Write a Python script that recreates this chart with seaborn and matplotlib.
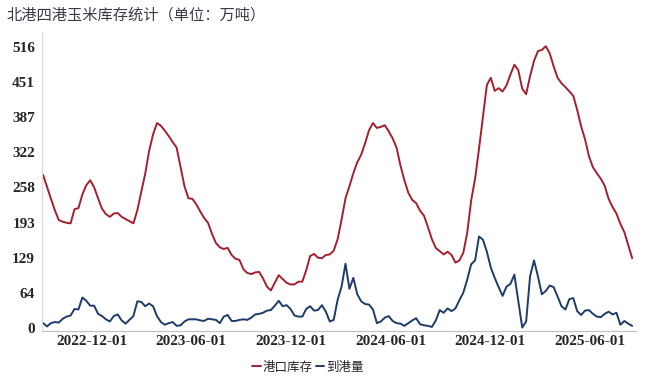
import pandas as pd
import matplotlib
matplotlib.use("Agg")
import matplotlib.pyplot as plt
import matplotlib.dates as mdates
import seaborn as sns

title = "北港四港玉米库存统计（单位：万吨）"
series_names = ["港口库存", "到港量"]
first_date = "2022-09-03"
last_date = "2025-08-18"

port_stock = [
    281, 259, 237, 216, 198, 195, 193, 192, 218, 220,
    245, 262, 271, 258, 238, 219, 209, 204, 210, 211,
    204, 200, 196, 192, 216, 250, 283, 325, 355, 376,
    371, 362, 352, 341, 331, 295, 260, 238, 237, 227,
    214, 202, 193, 173, 156, 148, 145, 147, 134, 127,
    125, 108, 101, 99, 102, 103, 91, 76, 69, 83,
    97, 90, 83, 80, 80, 85, 85, 106, 132, 136,
    129, 128, 134, 135, 142, 163, 199, 238, 260, 284,
    304, 318, 339, 363, 376, 367, 369, 372, 361, 348,
    331, 298, 271, 248, 235, 229, 215, 206, 185, 163,
    147, 141, 135, 140, 134, 120, 124, 138, 175, 234,
    274, 329, 388, 446, 459, 435, 440, 434, 445, 465,
    483, 473, 439, 429, 462, 490, 508, 510, 517, 504,
    480, 459, 449, 442, 434, 426, 400, 370, 346, 315,
    295, 284, 274, 261, 237, 222, 210, 191, 176, 152, 128,
]

arrivals = [
    9, 3, 9, 11, 10, 17, 21, 23, 35, 34,
    56, 50, 41, 41, 26, 22, 16, 12, 22, 25,
    14, 8, 15, 22, 49, 48, 40, 45, 40, 22,
    11, 6, 9, 11, 4, 5, 12, 16, 16, 16,
    14, 13, 17, 16, 15, 9, 21, 24, 13, 13,
    15, 16, 15, 19, 25, 26, 28, 32, 33, 41,
    50, 40, 42, 35, 23, 21, 21, 35, 40, 32,
    33, 42, 30, 12, 15, 52, 76, 118, 72, 92,
    62, 49, 44, 43, 34, 9, 12, 19, 22, 13,
    9, 8, 4, 9, 14, 18, 7, 5, 4, 2,
    14, 33, 28, 36, 31, 36, 51, 65, 89, 117,
    124, 168, 162, 140, 111, 92, 75, 59, 76, 81,
    98, 50, 1, 12, 95, 124, 95, 62, 68, 78,
    75, 58, 40, 34, 53, 55, 31, 24, 32, 33,
    26, 21, 20, 26, 30, 25, 28, 6, 13, 8, 4,
]

ytick_values = [0, 64.5, 129, 193.5, 258, 322.5, 387, 451.5, 516]
ytick_labels = ["0", "64", "129", "193", "258", "322", "387", "451", "516"]
xtick_dates = ["2022-12-01", "2023-06-01", "2023-12-01",
               "2024-06-01", "2024-12-01", "2025-06-01"]

dates = pd.date_range(first_date, last_date, periods=len(port_stock))
df = pd.DataFrame({"date": dates,
                   series_names[0]: port_stock,
                   series_names[1]: arrivals})
long_df = df.melt(id_vars="date", var_name="series", value_name="value")

sns.set_theme(style="white")
plt.rcParams["font.family"] = ["Noto Sans CJK SC", "DejaVu Sans"]

fig = plt.figure(figsize=(6.6, 3.84), dpi=100)
ax = fig.add_axes([42 / 660, 53.5 / 384, 594 / 660, 298.5 / 384])

palette = {series_names[0]: "#A3202F", series_names[1]: "#1E3B6A"}
sns.lineplot(data=long_df, x="date", y="value", hue="series",
             palette=palette, linewidth=1.4, ax=ax)

ax.set_xlim(pd.Timestamp("2022-09-01"), pd.Timestamp("2025-08-25"))
ax.set_ylim(-4.5, 543)
ax.set_xlabel("")
ax.set_ylabel("")

ax.set_yticks(ytick_values)
ax.set_yticklabels(ytick_labels)
ax.set_xticks(pd.to_datetime(xtick_dates))
ax.xaxis.set_major_formatter(mdates.DateFormatter("%Y-%m-%d"))

for lab in ax.get_xticklabels() + ax.get_yticklabels():
    lab.set_fontfamily("Liberation Serif")
    lab.set_fontweight("bold")
    lab.set_fontsize(11)
    lab.set_color("#262626")

ax.tick_params(axis="both", length=0)
ax.tick_params(axis="x", pad=3)
ax.tick_params(axis="y", pad=5)

for side in ["top", "right"]:
    ax.spines[side].set_visible(False)
ax.spines["left"].set_color("#D9D9D9")
ax.spines["bottom"].set_color("#BFBFBF")
ax.spines["left"].set_linewidth(0.8)
ax.spines["bottom"].set_linewidth(0.8)

sns.move_legend(ax, "center", bbox_to_anchor=(308 / 660, 17 / 384),
                bbox_transform=fig.transFigure, ncol=2, frameon=False,
                title=None, fontsize=9, handlelength=0.7,
                handletextpad=0.15, columnspacing=0.2)

fig.text(7 / 660, 1 - 15 / 384, title, fontsize=11, color="#3A3A48",
         ha="left", va="center")

fig.savefig("out.png", dpi=100)
